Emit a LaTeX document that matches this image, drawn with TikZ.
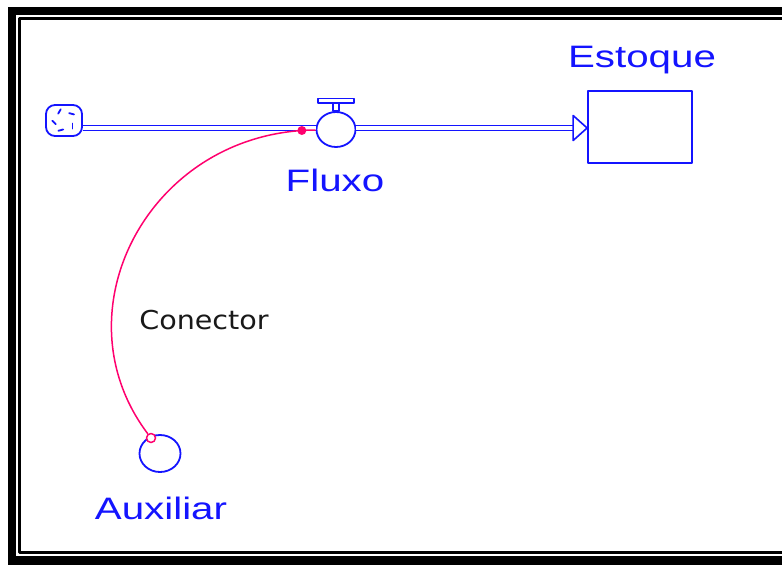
\documentclass[tikz,border=0pt]{standalone}
\usepackage{fontspec}
\setmainfont{Liberation Sans}
\newfontfamily\conecfont{DejaVu Sans}
\usetikzlibrary{shapes.geometric,calc}
\definecolor{vblue}{RGB}{20,20,255}
\definecolor{vpink}{RGB}{255,0,110}
\begin{document}
\begin{tikzpicture}[x=1pt,y=-1pt,
  line join=round,
  sym/.style={draw=vblue, line width=1.8pt, fill=white, inner sep=0pt},
  pipe/.style={draw=vblue, line width=1.6pt, double=white, double distance=3.2pt},
  lbl/.style={text=vblue, font=\fontsize{31}{32}\selectfont, anchor=base, inner sep=0pt, xscale=1.3},
  conn/.style={draw=vpink, line width=1.5pt},
  valvepart/.style={draw=vblue, line width=1.6pt, fill=white},
  swirl/.style={draw=vblue, line width=1.8pt, line cap=round}
]
\useasboundingbox (0,0) rectangle (782,565);
\clip (0,0) rectangle (782,565);
\fill[white] (0,0) rectangle (782,565);
% frame
\fill[black] (8,7) rectangle (790,570);
\fill[white] (16,15) rectangle (790,556);
\draw[black, line width=2.6pt] (19.5,18.5) rectangle (800,552.5);

% labels
\node[lbl] (lblstock) at (642,67) {Estoque};
\node[lbl] (lblflow) at (335,191) {Fluxo};
\node[lbl] (lblaux) at (161,519) {Auxiliar};
\node[anchor=base, inner sep=0pt, xscale=1.1, text=black!90,
      font=\conecfont\fontsize{26}{27}\selectfont] (lblconn) at (204,329) {Conector};

% symbols
\node[sym, rounded corners=9pt, minimum width=36pt, minimum height=31pt] (cloud) at (64,120.5) {};
\foreach \a in {95,20,-55,-130,-205}{
  \draw[swirl] ($(cloud.center)+(\a:9)$) -- ++(\a+70:5);
}
\node[sym, ellipse, minimum width=39pt, minimum height=35pt] (valve) at (336,129.5) {};
\draw[valvepart] ([xshift=-3pt]valve.north) rectangle ([xshift=3pt,yshift=8pt]valve.north);
\draw[valvepart] ([xshift=-18pt,yshift=8pt]valve.north) rectangle ([xshift=18pt,yshift=12.5pt]valve.north);
\node[sym, minimum width=104pt, minimum height=72pt] (stock) at (640,127) {};
\node[sym, ellipse, minimum width=41pt, minimum height=37pt] (aux) at (160,453.5) {};

% pipes
\coordinate (pl) at ([yshift=1.5pt]valve.west);
\coordinate (pr) at ([yshift=1.5pt]valve.east);
\coordinate (tip) at (stock.west |- pr);
\draw[pipe] (cloud.east |- pl) -- (pl);
\draw[pipe] (pr) -- ([xshift=-14pt]tip);
\draw[valvepart] ([xshift=-14pt,yshift=12.5pt]tip) -- (tip) -- ([xshift=-14pt,yshift=-12.5pt]tip) -- cycle;

% connector
\node[circle, draw=vpink, line width=1.5pt, fill=white, minimum size=9pt, inner sep=0pt] (ctail) at (151,438) {};
\draw[conn] (ctail) .. controls (55,311) and (150,131) .. ([yshift=-0.5pt]valve.west)
  node[pos=0.972, circle, fill=vpink, inner sep=0pt, minimum size=9pt] (chead) {};
\end{tikzpicture}
\end{document}
